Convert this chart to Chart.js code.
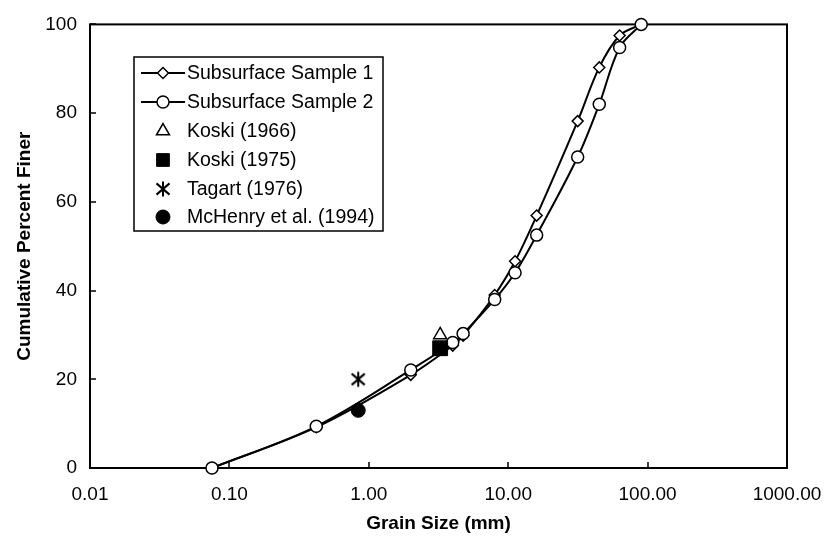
<!DOCTYPE html>
<html>
<head>
<meta charset="utf-8">
<script src="https://cdn.jsdelivr.net/npm/chart.js@4.4.1/dist/chart.umd.min.js"></script>
<style>
	html, body { margin: 0; padding: 0; background: #fff; }
	#wrap { width: 840px; height: 540px; }
</style>
</head>
<body>
<div id="wrap"><canvas id="grain-chart" width="840" height="540"></canvas></div>
<script>
(function () {
	'use strict';

	// ——— Data ———
	var sieveSizes = [0.075, 0.42, 2.0, 4.0, 4.75, 8.0, 11.2, 16.0, 31.5, 45.0, 63.0, 90.0];
	var sample1Finer = [0, 9.2, 21.0, 27.6, 29.8, 39.0, 46.6, 56.9, 78.2, 90.3, 97.5, 100];
	var sample2Finer = [0, 9.4, 22.1, 28.3, 30.3, 38.0, 44.0, 52.5, 70.1, 82.0, 94.8, 100];

	var studyNames = ['Koski (1966)', 'Koski (1975)', 'Tagart (1976)', 'McHenry et al. (1994)'];
	var studySize = [3.25, 3.25, 0.84, 0.84];
	var studyFiner = [30, 27, 20, 13];

	var xTicks = [0.01, 0.1, 1, 10, 100, 1000];
	var yTicks = [0, 20, 40, 60, 80, 100];

	var FONT = '"Liberation Sans", Arial, Helvetica, sans-serif';

	function points(xs, ys) {
		return xs.map(function (x, i) { return { x: x, y: ys[i] }; });
	}

	// six-armed asterisk marker
	function asterisk(size) {
		var c = document.createElement('canvas');
		c.width = size; c.height = size;
		var g = c.getContext('2d');
		var m = size / 2, r = size / 2 - 1.5;
		g.strokeStyle = '#000';
		g.lineWidth = 2;
		g.beginPath();
		g.moveTo(m, m - r); g.lineTo(m, m + r);
		g.moveTo(m - r * 0.87, m - r * 0.75); g.lineTo(m + r * 0.87, m + r * 0.75);
		g.moveTo(m + r * 0.87, m - r * 0.75); g.lineTo(m - r * 0.87, m + r * 0.75);
		g.stroke();
		return c;
	}

	var starImg = asterisk(18);

	var datasets = [
		{
			label: 'Subsurface Sample 1',
			data: points(sieveSizes, sample1Finer),
			showLine: true, tension: 0.35,
			borderColor: '#000', borderWidth: 2,
			pointStyle: 'rectRot', pointRadius: 5.5,
			pointBackgroundColor: '#fff', pointBorderColor: '#000', pointBorderWidth: 1.5,
			order: 3, clip: false
		},
		{
			label: 'Subsurface Sample 2',
			data: points(sieveSizes, sample2Finer),
			showLine: true, tension: 0.35,
			borderColor: '#000', borderWidth: 2,
			pointStyle: 'circle', pointRadius: 6,
			pointBackgroundColor: '#fff', pointBorderColor: '#000', pointBorderWidth: 1.5,
			order: 2, clip: false
		},
		{
			label: studyNames[0],
			data: [{ x: studySize[0], y: studyFiner[0] }],
			pointStyle: 'triangle', pointRadius: 7.5,
			pointBackgroundColor: '#fff', pointBorderColor: '#000', pointBorderWidth: 1.5,
			order: 1, clip: false, legendRadius: 7.5
		},
		{
			label: studyNames[1],
			data: [{ x: studySize[1], y: studyFiner[1] }],
			pointStyle: 'rect', pointRadius: 10.5,
			pointBackgroundColor: '#000', pointBorderColor: '#000', pointBorderWidth: 1,
			order: 0, clip: false, legendRadius: 9
		},
		{
			label: studyNames[2],
			data: [{ x: studySize[2], y: studyFiner[2] }],
			pointStyle: starImg, pointRadius: 9,
			order: 0, clip: false, legendRadius: 9
		},
		{
			label: studyNames[3],
			data: [{ x: studySize[3], y: studyFiner[3] }],
			pointStyle: 'circle', pointRadius: 7,
			pointBackgroundColor: '#000', pointBorderColor: '#000', pointBorderWidth: 1,
			order: 0, clip: false, legendRadius: 7
		}
	];

	// ——— Plot frame and inward ticks ———
	var framePlugin = {
		id: 'frame',
		beforeDatasetsDraw: function (chart) {
			var a = chart.chartArea, ctx = chart.ctx;
			var sx = chart.scales.x, sy = chart.scales.y;
			ctx.save();
			ctx.strokeStyle = '#000';
			ctx.lineWidth = 2;
			ctx.strokeRect(a.left, a.top, a.right - a.left, a.bottom - a.top);
			ctx.lineWidth = 1.5;
			ctx.beginPath();
			xTicks.forEach(function (v) {
				var px = Math.round(sx.getPixelForValue(v));
				ctx.moveTo(px, a.bottom); ctx.lineTo(px, a.bottom - 6);
			});
			yTicks.forEach(function (v) {
				var py = Math.round(sy.getPixelForValue(v));
				ctx.moveTo(a.left, py); ctx.lineTo(a.left + 6, py);
			});
			ctx.stroke();
			ctx.restore();
		}
	};

	// ——— Boxed legend inside the plot ———
	var legendPlugin = {
		id: 'boxLegend',
		afterDraw: function (chart) {
			var ctx = chart.ctx;
			var box = { left: 134, top: 57, right: 383, bottom: 231 };
			var rowY = [73, 102, 131, 160, 189, 217];
			var symX = 163, textX = 187;
			ctx.save();
			ctx.fillStyle = '#fff';
			ctx.fillRect(box.left, box.top, box.right - box.left, box.bottom - box.top);
			ctx.strokeStyle = '#000';
			ctx.lineWidth = 1.5;
			ctx.strokeRect(box.left, box.top, box.right - box.left, box.bottom - box.top);
			chart.data.datasets.forEach(function (ds, i) {
				var y = rowY[i];
				if (ds.showLine) {
					ctx.strokeStyle = '#000';
					ctx.lineWidth = 1.8;
					ctx.beginPath();
					ctx.moveTo(141, y); ctx.lineTo(185, y);
					ctx.stroke();
				}
				ctx.fillStyle = ds.pointBackgroundColor || '#000';
				ctx.strokeStyle = ds.pointBorderColor || '#000';
				ctx.lineWidth = ds.pointBorderWidth || 1;
				Chart.helpers.drawPoint(ctx, {
					pointStyle: ds.pointStyle,
					radius: ds.legendRadius || ds.pointRadius,
					rotation: 0,
					borderWidth: ds.pointBorderWidth || 1
				}, symX, y);
				ctx.fillStyle = '#000';
				ctx.font = '19.5px ' + FONT;
				ctx.textAlign = 'left';
				ctx.textBaseline = 'middle';
				ctx.fillText(ds.label, textX, y + 1);
			});
			ctx.restore();
		}
	};

	new Chart(document.getElementById('grain-chart').getContext('2d'), {
		type: 'scatter',
		data: { datasets: datasets },
		plugins: [framePlugin, legendPlugin],
		options: {
			responsive: false,
			animation: false,
			events: [],
			layout: { padding: { top: 20, right: 53, left: 0, bottom: 0 } },
			plugins: { legend: { display: false }, tooltip: { enabled: false } },
			scales: {
				x: {
					type: 'logarithmic',
					min: 0.01,
					max: 1000,
					afterBuildTicks: function (s) {
						s.ticks = xTicks.map(function (v) { return { value: v }; });
					},
					afterFit: function (s) { s.height = 72; },
					grid: { display: false, drawTicks: false },
					border: { display: false },
					ticks: {
						autoSkip: false,
						maxRotation: 0,
						padding: 15,
						color: '#000',
						font: { family: FONT, size: 19 },
						callback: function (v) { return Number(v).toFixed(2); }
					},
					title: {
						display: true,
						text: 'Grain Size (mm)',
						color: '#000',
						font: { family: FONT, size: 19, weight: 'bold' },
						padding: { top: 0, bottom: 5 }
					}
				},
				y: {
					min: 0,
					max: 100,
					afterBuildTicks: function (s) {
						s.ticks = yTicks.map(function (v) { return { value: v }; });
					},
					afterFit: function (s) { s.width = 90; },
					grid: { display: false, drawTicks: false },
					border: { display: false },
					ticks: {
						padding: 13,
						color: '#000',
						font: { family: FONT, size: 19 }
					},
					title: {
						display: true,
						text: 'Cumulative Percent Finer',
						color: '#000',
						font: { family: FONT, size: 19, weight: 'bold' },
						padding: { top: 13, bottom: 0 }
					}
				}
			}
		}
	});
})();
</script>
</body>
</html>
